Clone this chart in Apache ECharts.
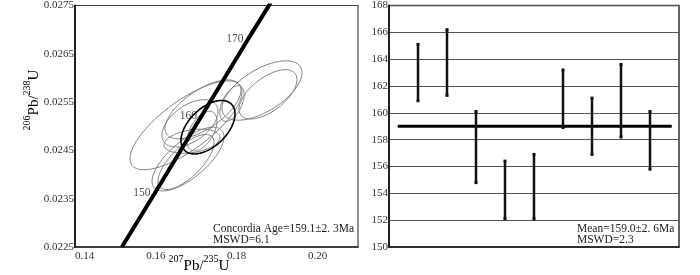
<!DOCTYPE html>
<html>
<head>
<meta charset="utf-8">
<script src="https://cdn.jsdelivr.net/npm/echarts@6/dist/echarts.min.js"></script>
<style>
  html, body { margin: 0; background: #fff; }
  #main { width: 700px; height: 275px; }
</style>
</head>
<body>
<div id="main"></div>
<script>
// concordia curve: [207Pb/235U, 206Pb/238U]
var concordia = [[0.1516, 0.0225], [0.1592, 0.02354], [0.1707, 0.02513], [0.1822, 0.02672], [0.1884, 0.02756]];
var ageMarks = [[0.1592, 0.02354, '150'], [0.1707, 0.02513, '160'], [0.1822, 0.02672, '170']];
// error ellipses: [x, y, sx, sy, rho]
var ellipses = [
    [0.16745, 0.02502, 0.01385, 0.00092, 0.75],
    [0.16844, 0.02506, 0.00693, 0.00049, 0.5],
    [0.17166, 0.02535, 0.0094, 0.00061, 0.65],
    [0.18625, 0.02574, 0.0099, 0.000615, 0.6],
    [0.18774, 0.02566, 0.00717, 0.00051, 0.6],
    [0.16795, 0.02432, 0.0089, 0.00066, 0.7],
    [0.16745, 0.02426, 0.00693, 0.00057, 0.7],
    [0.16894, 0.02469, 0.00693, 0.00025, 0.3],
    [0.17883, 0.02547, 0.0030, 0.00037, 0.5],
    [0.17141, 0.02490, 0.0037, 0.00041, 0.5]
];
var meanEllipse = [[0.1729, 0.02498, 0.00668, 0.000553, 0.5]];

// weighted mean plot
var spotNo = [1, 2, 3, 4, 5, 6, 7, 8, 9];
var ageLow = [160.9, 161.3, 154.8, 152.1, 152.1, 158.9, 156.9, 158.2, 155.8];
var ageHigh = [165.1, 166.2, 160.1, 156.4, 156.9, 163.2, 161.1, 163.6, 160.1];
var meanAge = 159.0;
var meanSpan = [0.3, 9.75];

var serif = '"Liberation Serif", "DejaVu Serif", serif';
var chart = echarts.init(document.getElementById('main'));

var barData = spotNo.map(function (n, i) { return [n, ageLow[i], ageHigh[i]]; });

function ellipseItem(color, width) {
    return function (params, api) {
        var cx = api.value(0), cy = api.value(1), sx = api.value(2), sy = api.value(3), r = api.value(4);
        var pts = [];
        for (var i = 0; i <= 90; i++) {
            var t = i / 90 * 2 * Math.PI;
            pts.push(api.coord([cx + sx * Math.cos(t), cy + sy * (r * Math.cos(t) + Math.sqrt(1 - r * r) * Math.sin(t))]));
        }
        return { type: 'polyline', shape: { points: pts }, style: { fill: 'none', stroke: color, lineWidth: width } };
    };
}

var option = {
    animation: false,
    grid: [
        { left: 75, top: 3, width: 283, height: 244, show: true, borderColor: '#444', borderWidth: 1.2 },
        { left: 389, top: 4, width: 290, height: 243, show: true, borderColor: '#333', borderWidth: 1.5 }
    ],
    xAxis: [
        {
            gridIndex: 0, type: 'value', min: 0.14, max: 0.21, interval: 0.01,
            axisLine: { lineStyle: { color: '#222', width: 1.5 } },
            axisTick: { show: false }, splitLine: { show: false },
            axisLabel: {
                fontFamily: serif, fontSize: 11, color: '#333', margin: 4, alignMinLabel: 'left',
                formatter: function (v) {
                    var k = Math.round(v * 100);
                    return (k % 2 === 0 && k < 21) ? v.toFixed(2) : '';
                }
            }
        },
        {
            gridIndex: 1, type: 'value', min: 0, max: 10,
            axisLine: { lineStyle: { color: '#222', width: 1.5 } },
            axisTick: { show: false }, axisLabel: { show: false }, splitLine: { show: false }
        }
    ],
    yAxis: [
        {
            gridIndex: 0, type: 'value', min: 0.0225, max: 0.0275, interval: 0.0005,
            axisLine: { show: true, lineStyle: { color: '#222', width: 2 } },
            axisTick: { show: false }, splitLine: { show: false },
            axisLabel: {
                fontFamily: serif, fontSize: 11, color: '#333', margin: 1,
                formatter: function (v) {
                    return Math.round(v * 10000) % 10 === 5 ? v.toFixed(4) : '';
                }
            }
        },
        {
            gridIndex: 1, type: 'value', min: 150, max: 168, interval: 2,
            axisLine: { show: true, lineStyle: { color: '#222', width: 2 } },
            axisTick: { show: false },
            splitLine: { show: true, lineStyle: { color: '#555', width: 1 } },
            axisLabel: { fontFamily: serif, fontSize: 11, color: '#333', margin: 1 }
        }
    ],
    series: [
        {
            type: 'custom', xAxisIndex: 0, yAxisIndex: 0, data: ellipses,
            encode: { x: 0, y: 1 }, renderItem: ellipseItem('#808080', 1), clip: true, z: 2
        },
        {
            type: 'custom', xAxisIndex: 0, yAxisIndex: 0, data: meanEllipse,
            encode: { x: 0, y: 1 }, renderItem: ellipseItem('#000', 1.6), clip: true, z: 3
        },
        {
            type: 'line', xAxisIndex: 0, yAxisIndex: 0, data: concordia, symbol: 'none',
            lineStyle: { color: '#000', width: 4 }, clip: true, z: 4
        },
        {
            type: 'scatter', xAxisIndex: 0, yAxisIndex: 0, data: ageMarks, symbolSize: 0, z: 5,
            label: {
                show: true, position: 'left', distance: 2, offset: [0, -4],
                fontFamily: serif, fontSize: 11.5, color: '#222',
                formatter: function (p) { return p.value[2]; }
            }
        },
        {
            type: 'line', xAxisIndex: 1, yAxisIndex: 1, symbol: 'none',
            data: [[meanSpan[0], meanAge], [meanSpan[1], meanAge]],
            lineStyle: { color: '#000', width: 3 }, z: 3
        },
        {
            type: 'custom', xAxisIndex: 1, yAxisIndex: 1, data: barData, encode: { x: 0, y: [1, 2] }, z: 4,
            renderItem: function (params, api) {
                var x = api.value(0);
                var lo = api.coord([x, api.value(1)]), hi = api.coord([x, api.value(2)]);
                return {
                    type: 'group', children: [
                        { type: 'line', shape: { x1: lo[0], y1: lo[1], x2: hi[0], y2: hi[1] }, style: { stroke: '#111', lineWidth: 2.5 } },
                        { type: 'rect', shape: { x: lo[0] - 1.5, y: lo[1] - 1.5, width: 3, height: 3 }, style: { fill: '#111' } },
                        { type: 'rect', shape: { x: hi[0] - 1.5, y: hi[1] - 1.5, width: 3, height: 3 }, style: { fill: '#111' } }
                    ]
                };
            }
        }
    ],
    graphic: [
        {
            type: 'text', x: 32, y: 100, rotation: Math.PI / 2, z: 10,
            style: {
                text: '{s|206}{b|Pb/}{s|238}{b|U}', align: 'center', verticalAlign: 'middle',
                rich: {
                    s: { fontFamily: serif, fontSize: 10, color: '#222', verticalAlign: 'top', lineHeight: 20 },
                    b: { fontFamily: serif, fontSize: 15, color: '#222', verticalAlign: 'bottom', lineHeight: 20 }
                }
            }
        },
        {
            type: 'text', x: 199, y: 264, z: 10,
            style: {
                text: '{s|207}{b|Pb/}{s|235}{b|U}', align: 'center', verticalAlign: 'middle',
                rich: {
                    s: { fontFamily: serif, fontSize: 10, color: '#222', verticalAlign: 'top', lineHeight: 20 },
                    b: { fontFamily: serif, fontSize: 15, color: '#222', verticalAlign: 'bottom', lineHeight: 20 }
                }
            }
        },
        {
            type: 'text', x: 213, y: 223, z: 10,
            style: { text: 'Concordia Age=159.1±2. 3Ma\nMSWD=6.1', fontFamily: serif, fontSize: 11.5, lineHeight: 11, fill: '#222' }
        },
        {
            type: 'text', x: 577, y: 223, z: 10,
            style: { text: 'Mean=159.0±2. 6Ma\nMSWD=2.3', fontFamily: serif, fontSize: 11.5, lineHeight: 11, fill: '#222' }
        }
    ]
};
chart.setOption(option);
</script>
</body>
</html>
